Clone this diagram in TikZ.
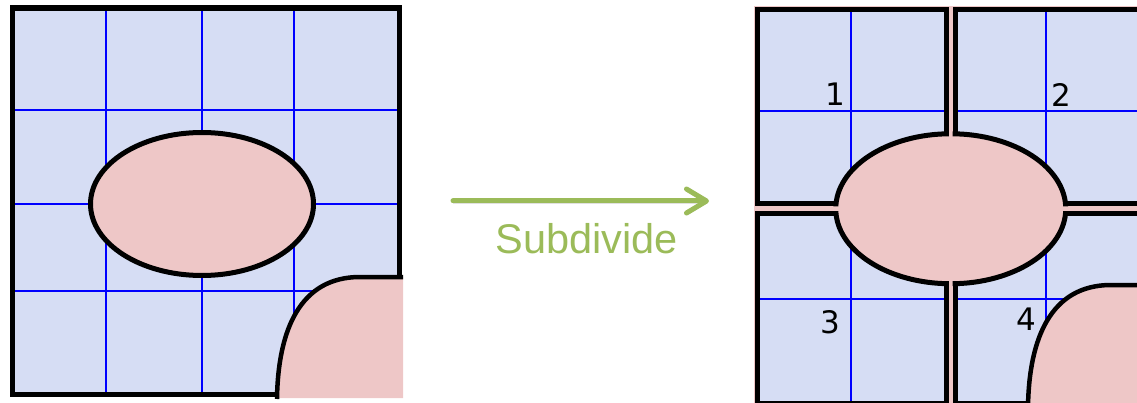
\documentclass[tikz,border=0pt]{standalone}
\usepackage{fontspec}
\setmainfont{Liberation Sans}
\newfontfamily\numfont{DejaVu Sans}
\usetikzlibrary{arrows.meta}
\definecolor{cellblue}{RGB}{214,221,244}
\definecolor{blobpink}{RGB}{238,199,199}
\definecolor{gridblue}{RGB}{0,0,255}
\definecolor{arrowgreen}{RGB}{155,187,89}
\begin{document}
\begin{tikzpicture}[x=1pt, y=-1pt, line join=miter,
		gridline/.style={gridblue, line width=2.4pt},
		wall/.style={line width=5pt},
		rim/.style={line width=5pt, fill=blobpink},
		quadlabel/.style={inner sep=0pt, font=\numfont\fontsize{31}{31}\selectfont}]
	\useasboundingbox (0,0) rectangle (1137,403);
	\fill [cellblue] (12.5,8) rectangle (399.5,394.5);
	\draw [gridline] (106,8)--(106,394.5) (202,8)--(202,394.5) (294,8)--(294,394.5)
		(12.5,110)--(399.5,110) (12.5,204)--(399.5,204) (12.5,291)--(399.5,291);
	\draw [line width=5.5pt] (12.5,8) rectangle (399.5,394.5);
	\draw [rim] (202,204) ellipse [x radius=111.5pt, y radius=71.5pt];
	\fill [blobpink] (277,398) .. controls (278,330) and (300,277) .. (360,277) -- (403,277) -- (403,398) -- cycle;
	\draw [line width=4.5pt] (277,399) .. controls (278,330) and (300,277) .. (360,277) -- (403,277);
	\coordinate (from) at (453,201);
	\coordinate (to) at (709,201);
	\draw [arrowgreen, line width=5pt, line cap=round, -{Straight Barb[length=20pt, width=24pt, round]},
		preaction={draw=black!12, transform canvas={yshift=-2.5pt}}] (from) -- (to);
	\node [arrowgreen, anchor=base, inner sep=0pt, font=\fontsize{41.5}{48}\selectfont] (subdivide) at (586.5,254) {Subdivide};
	\begin{scope}
		\clip (0,0) rectangle (1137,403);
		\fill [blobpink] (754,6.5) rectangle (1140,406);
		\fill [cellblue] (757.5,9.5) rectangle (946.5,204) (955,9.5) rectangle (1153,204)
			(757.5,213.5) rectangle (946.5,403) (955,213.5) rectangle (1153,403);
		\draw [gridline] (851,9.5)--(851,204) (851,213.5)--(851,403) (1046,9.5)--(1046,204) (1046,213.5)--(1046,403)
			(757.5,111)--(946.5,111) (955,111)--(1153,111) (757.5,299)--(946.5,299) (955,299)--(1153,299);
		\draw [wall] (757.5,9.5) rectangle (946.5,204) (955,9.5) rectangle (1153,204)
			(757.5,213.5) rectangle (946.5,403) (955,213.5) rectangle (1153,403);
		\draw [rim] (950.75,208.75) ellipse [x radius=115pt, y radius=75pt];
		\fill [blobpink] (949,6.5) rectangle (952.5,406) (754,206.5) rectangle (1140,211);
		\fill [blobpink] (1028,406) .. controls (1029,338) and (1051,285) .. (1111,285) -- (1140,285) -- (1140,406) -- cycle;
		\draw [line width=4.5pt] (1028,407) .. controls (1029,338) and (1051,285) .. (1111,285) -- (1140,285);
		\node [quadlabel] (q1) at (835,94.5) {1};
		\node [quadlabel] (q2) at (1061.5,94.5) {2};
		\node [quadlabel] (q3) at (830.5,322) {3};
		\node [quadlabel] (q4) at (1026,319) {4};
	\end{scope}
\end{tikzpicture}
\end{document}
